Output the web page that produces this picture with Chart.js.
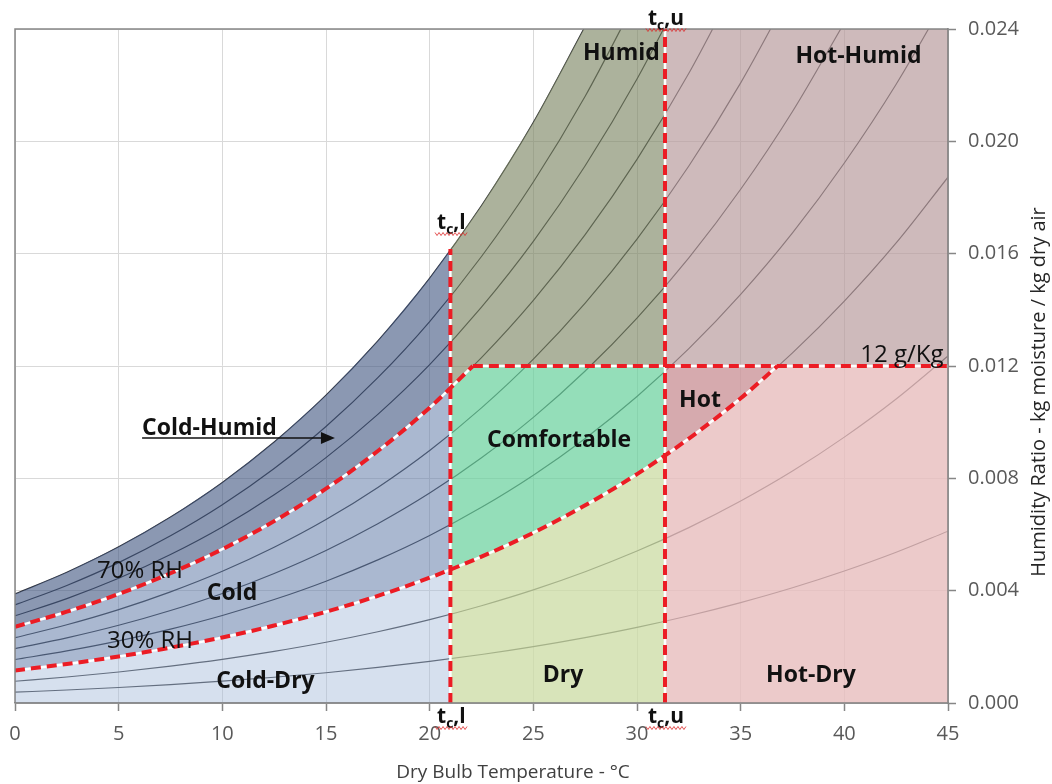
<!DOCTYPE html>
<html><head><meta charset="utf-8">
<script src="https://cdn.jsdelivr.net/npm/chart.js@4.4.1/dist/chart.umd.min.js"></script>
<style>html,body{margin:0;padding:0;background:#fff;}canvas{display:block;}</style>
</head><body>
<canvas id="c" width="1052" height="784"></canvas>
<script>
// ---------- DATA ----------
const temperatures = [0, 2.5, 5, 7.5, 10, 12.5, 15, 17.5, 20, 22.5, 25, 27.5, 30, 32.5, 35, 37.5, 40, 42.5, 45];
// humidity ratio (g moisture / kg dry air) along constant relative-humidity curves
const rh10  = [0.386, 0.462, 0.552, 0.656, 0.777, 0.917, 1.079, 1.266, 1.481, 1.727, 2.008, 2.329, 2.693, 3.107, 3.575, 4.102, 4.698, 5.366, 6.118];
const rh20  = [0.773, 0.925, 1.104, 1.313, 1.555, 1.837, 2.162, 2.537, 2.968, 3.465, 4.029, 4.675, 5.410, 6.245, 7.191, 8.258, 9.468, 10.826, 12.358];
const rh30  = [1.160, 1.389, 1.658, 1.972, 2.335, 2.759, 3.248, 3.814, 4.463, 5.211, 6.063, 7.039, 8.150, 9.415, 10.849, 12.470, 14.311, 16.381, 18.723];
const rh40  = [1.548, 1.854, 2.212, 2.632, 3.118, 3.684, 4.338, 5.096, 5.965, 6.968, 8.111, 9.421, 10.915, 12.618, 14.550, 16.738, 19.229, 22.034, 25.217];
const rh50  = [1.936, 2.319, 2.767, 3.293, 3.902, 4.612, 5.432, 6.383, 7.475, 8.734, 10.172, 11.821, 13.704, 15.852, 18.294, 21.064, 24.223, null, null];
const rh60  = [2.325, 2.785, 3.324, 3.956, 4.689, 5.543, 6.530, 7.675, 8.991, 10.511, 12.246, 14.239, 16.517, 19.120, 22.083, 25.450, null, null, null];
const rh70  = [2.714, 3.251, 3.881, 4.620, 5.477, 6.476, 7.632, 8.973, 10.515, 12.297, 14.334, 16.676, 19.356, 22.422, 25.917, null, null, null, null];
const rh80  = [3.104, 3.718, 4.440, 5.286, 6.267, 7.412, 8.738, 10.276, 12.046, 14.094, 16.436, 19.131, 22.220, 25.758, null, null, null, null, null];
const rh90  = [3.494, 4.186, 4.999, 5.953, 7.059, 8.351, 9.847, 11.584, 13.584, 15.900, 18.552, 21.606, 25.109, null, null, null, null, null, null];
const rh100 = [3.884, 4.655, 5.560, 6.621, 7.854, 9.293, 10.961, 12.898, 15.131, 17.717, 20.681, 24.099, null, null, null, null, null, null, null];
const rhCurves = [rh10, rh20, rh30, rh40, rh50, rh60, rh70, rh80, rh90, rh100];

const tcLower = 21;          // t_c,l  (°C)
const tcUpper = 31.35;       // t_c,u  (°C)
const humidLimit = 0.012;    // 12 g/Kg
const xTickValues = [0, 5, 10, 15, 20, 25, 30, 35, 40, 45];
const yTickValues = [0, 0.004, 0.008, 0.012, 0.016, 0.020, 0.024];
const yTickLabels = ['0.000', '0.004', '0.008', '0.012', '0.016', '0.020', '0.024'];

// ---------- helpers to build shapes from the curves ----------
const toPts = arr => temperatures.map((t, i) => ({x: t, y: arr[i] == null ? null : arr[i] / 1000})).filter(p => p.y !== null);
function yAt(pts, x) {
  for (let i = 1; i < pts.length; i++) {
    if (x <= pts[i].x) { const a = pts[i-1], b = pts[i]; return a.y + (b.y - a.y) * (x - a.x) / (b.x - a.x); }
  }
  return pts[pts.length-1].y;
}
function xAt(pts, y) {
  for (let i = 1; i < pts.length; i++) {
    if (pts[i].y >= y) { const a = pts[i-1], b = pts[i]; return a.x + (b.x - a.x) * (y - a.y) / (b.y - a.y); }
  }
  return pts[pts.length-1].x;
}
function seg(pts, x1, x2) {
  const out = [{x: x1, y: yAt(pts, x1)}];
  pts.forEach(p => { if (p.x > x1 && p.x < x2) out.push({x: p.x, y: p.y}); });
  out.push({x: x2, y: yAt(pts, x2)});
  return out;
}
const rev = a => a.slice().reverse();

const S = toPts(rh100), R70 = toPts(rh70), R30 = toPts(rh30);
const yTop = yTickValues[yTickValues.length-1];
const xEnd = xTickValues[xTickValues.length-1];
const xS24 = xAt(S, yTop);
const x70_12 = xAt(R70, humidLimit);
const x30_12 = xAt(R30, humidLimit);

const regions = [
  {name: 'Cold-Humid', color: 'rgba(66,86,129,0.61)', pts: seg(S, 0, tcLower).concat(rev(seg(R70, 0, tcLower)))},
  {name: 'Cold', color: 'rgba(98,124,168,0.54)', pts: seg(R70, 0, tcLower).concat(rev(seg(R30, 0, tcLower)))},
  {name: 'Cold-Dry', color: 'rgba(166,188,218,0.46)', pts: seg(R30, 0, tcLower).concat([{x: tcLower, y: 0}, {x: 0, y: 0}])},
  {name: 'Humid', color: 'rgba(123,133,98,0.63)', pts: seg(S, tcLower, xS24).concat([{x: tcUpper, y: yTop}, {x: tcUpper, y: humidLimit}], rev(seg(R70, tcLower, x70_12)))},
  {name: 'Comfortable', color: 'rgba(104,208,156,0.71)', pts: seg(R70, tcLower, x70_12).concat([{x: tcUpper, y: humidLimit}], rev(seg(R30, tcLower, tcUpper)))},
  {name: 'Dry', color: 'rgba(204,220,164,0.76)', pts: seg(R30, tcLower, tcUpper).concat([{x: tcUpper, y: 0}, {x: tcLower, y: 0}])},
  {name: 'Hot-Humid', color: 'rgba(184,155,157,0.69)', pts: [{x: tcUpper, y: humidLimit}, {x: tcUpper, y: yTop}, {x: xEnd, y: yTop}, {x: xEnd, y: humidLimit}]},
  {name: 'Hot', color: 'rgba(204,149,154,0.8)', pts: seg(R30, tcUpper, x30_12).concat([{x: tcUpper, y: humidLimit}])},
  {name: 'Hot-Dry', color: 'rgba(231,189,189,0.8)', pts: seg(R30, tcUpper, x30_12).concat([{x: xEnd, y: humidLimit}, {x: xEnd, y: 0}, {x: tcUpper, y: 0}])}
];

const boundaries = [
  {pts: seg(R70, 0, x70_12), curve: true},
  {pts: seg(R30, 0, x30_12), curve: true},
  {pts: [{x: x70_12, y: humidLimit}, {x: xEnd, y: humidLimit}], curve: false},
  {pts: [{x: tcLower, y: 0}, {x: tcLower, y: yAt(S, tcLower)}], curve: false},
  {pts: [{x: tcUpper, y: 0}, {x: tcUpper, y: yTop}], curve: false}
];

const datasets = [];
rhCurves.forEach(c => datasets.push({
  data: toPts(c), borderColor: 'rgb(45,47,53)', borderWidth: 1.15, pointRadius: 0,
  cubicInterpolationMode: 'monotone', fill: false, order: 40
}));
regions.forEach(r => datasets.push({
  data: r.pts, borderColor: 'rgba(0,0,0,0)', borderWidth: 0, backgroundColor: r.color,
  pointRadius: 0, tension: 0, fill: 'shape', order: 30
}));
boundaries.forEach(b => datasets.push({
  data: b.pts, borderColor: '#ffffff', borderWidth: 2.5, pointRadius: 0,
  cubicInterpolationMode: b.curve ? 'monotone' : 'default', tension: 0, fill: false, order: 20
}));
boundaries.forEach(b => datasets.push({
  data: b.pts, borderColor: 'rgb(236,28,36)', borderWidth: 4, borderDash: [10, 6], pointRadius: 0,
  cubicInterpolationMode: b.curve ? 'monotone' : 'default', tension: 0, fill: false, order: 10
}));

// ---------- annotations ----------
const FONT = "'Open Sans'";
const regionLabels = [
  {text: 'Humid', x: 29.25, y: 0.02290},
  {text: 'Hot-Humid', x: 40.68, y: 0.02279},
  {text: 'Comfortable', x: 26.24, y: 0.00912},
  {text: 'Hot', x: 33.04, y: 0.01054},
  {text: 'Cold', x: 10.47, y: 0.00367},
  {text: 'Cold-Dry', x: 12.08, y: 0.00053},
  {text: 'Dry', x: 26.43, y: 0.00075},
  {text: 'Hot-Dry', x: 38.39, y: 0.00075}
];
const plainLabels = [
  {text: '70% RH', x: 6.03, y: 0.00445},
  {text: '30% RH', x: 6.51, y: 0.00196},
  {text: '12 g/Kg', x: 42.78, y: 0.01214}
];

const annot = {
  id: 'annot',
  afterDatasetsDraw(chart) {
    const {ctx, scales: {x, y}, chartArea: ca} = chart;
    ctx.save();
    // frame
    ctx.strokeStyle = '#868686'; ctx.lineWidth = 1.5;
    ctx.beginPath();
    ctx.moveTo(ca.left, ca.bottom); ctx.lineTo(ca.left, ca.top); ctx.lineTo(ca.right, ca.top); ctx.lineTo(ca.right, ca.bottom); ctx.lineTo(ca.left, ca.bottom);
    ctx.stroke();

    ctx.fillStyle = '#111';
    ctx.textAlign = 'center'; ctx.textBaseline = 'alphabetic';
    ctx.font = 'bold 23px ' + FONT;
    regionLabels.forEach(l => ctx.fillText(l.text, x.getPixelForValue(l.x), y.getPixelForValue(l.y)));
    ctx.font = '24px ' + FONT;
    plainLabels.forEach(l => ctx.fillText(l.text, x.getPixelForValue(l.x), y.getPixelForValue(l.y)));

    // Cold-Humid with arrow
    const ax1 = x.getPixelForValue(6.13), ax2 = x.getPixelForValue(15.43), ay = y.getPixelForValue(0.00944);
    ctx.font = 'bold 23px ' + FONT; ctx.textAlign = 'left';
    ctx.fillText('Cold-Humid', ax1, y.getPixelForValue(0.00954));
    ctx.strokeStyle = '#111'; ctx.lineWidth = 1.5;
    ctx.beginPath(); ctx.moveTo(ax1, ay); ctx.lineTo(ax2 - 12, ay); ctx.stroke();
    ctx.beginPath(); ctx.moveTo(ax2, ay); ctx.lineTo(ax2 - 14, ay - 6); ctx.lineTo(ax2 - 14, ay + 6); ctx.closePath(); ctx.fill();

    // t_c labels
    const tc = (cx, base, suffix) => {
      ctx.font = 'bold 21px ' + FONT;
      const wt = ctx.measureText('t').width, ws = ctx.measureText(suffix).width;
      ctx.font = 'bold 14px ' + FONT;
      const wc = ctx.measureText('c').width;
      const x0 = cx - (wt + wc + ws) / 2;
      ctx.fillStyle = '#111'; ctx.textAlign = 'left';
      ctx.font = 'bold 21px ' + FONT; ctx.fillText('t', x0, base);
      ctx.font = 'bold 14px ' + FONT; ctx.fillText('c', x0 + wt, base + 5);
      ctx.font = 'bold 21px ' + FONT; ctx.fillText(suffix, x0 + wt + wc, base);
      ctx.strokeStyle = 'rgba(220,40,40,0.8)'; ctx.lineWidth = 1;
      ctx.beginPath();
      for (let k = 0, px = x0 - 2; px <= x0 + wt + wc + ws + 2; k++, px += 2) {
        const py = base + 5 + (k % 2 ? 1.5 : -1.5);
        if (k === 0) ctx.moveTo(px, py); else ctx.lineTo(px, py);
      }
      ctx.stroke();
    };
    const pl = x.getPixelForValue(tcLower) + 1, pu = x.getPixelForValue(tcUpper) + 1;
    tc(pl, y.getPixelForValue(yAt(S, tcLower)) - 20, ',l');
    tc(pu, ca.top - 4, ',u');
    tc(pl, ca.bottom + 20, ',l');
    tc(pu, ca.bottom + 20, ',u');

    // axis titles
    ctx.fillStyle = '#404040'; ctx.textAlign = 'center'; ctx.font = '19px ' + FONT;
    ctx.fillText('Dry Bulb Temperature - °C', 513, 778);
    ctx.save();
    ctx.translate(1045, 392); ctx.rotate(-Math.PI / 2);
    ctx.fillStyle = '#262626'; ctx.font = '20px ' + FONT;
    ctx.fillText('Humidity Ratio - kg moisture / kg dry air', 0, 0);
    ctx.restore();
    ctx.restore();
  }
};

Chart.defaults.font.family = FONT;
new Chart(document.getElementById('c'), {
  type: 'line',
  data: {datasets},
  options: {
    responsive: false, animation: false, events: [],
    layout: {padding: {left: 15, top: 29, right: 0, bottom: 0}},
    plugins: {legend: {display: false}, tooltip: {enabled: false}},
    scales: {
      x: {
        type: 'linear', min: 0, max: 45,
        afterBuildTicks: s => { s.ticks = xTickValues.map(v => ({value: v})); },
        ticks: {font: {size: 20, lineHeight: 1.4}, color: '#595959', padding: 9, maxRotation: 0, autoSkip: false, callback: v => String(v)},
        grid: {color: '#d9d9d9', lineWidth: 1, tickColor: '#868686', tickLength: 8, tickWidth: 1.5},
        border: {display: true, color: '#868686', width: 1.5},
        afterFit: s => { s.height = 81; }
      },
      y: {
        type: 'linear', position: 'right', min: 0, max: 0.024,
        afterBuildTicks: s => { s.ticks = yTickValues.map(v => ({value: v})); },
        ticks: {font: {size: 20}, color: '#595959', padding: 12, callback: (v, i) => yTickLabels[i]},
        grid: {color: '#d9d9d9', lineWidth: 1, tickColor: '#868686', tickLength: 8, tickWidth: 1.5},
        border: {display: true, color: '#868686', width: 1.5},
        afterFit: s => { s.width = 104; }
      }
    }
  },
  plugins: [annot]
});
</script>
</body></html>
